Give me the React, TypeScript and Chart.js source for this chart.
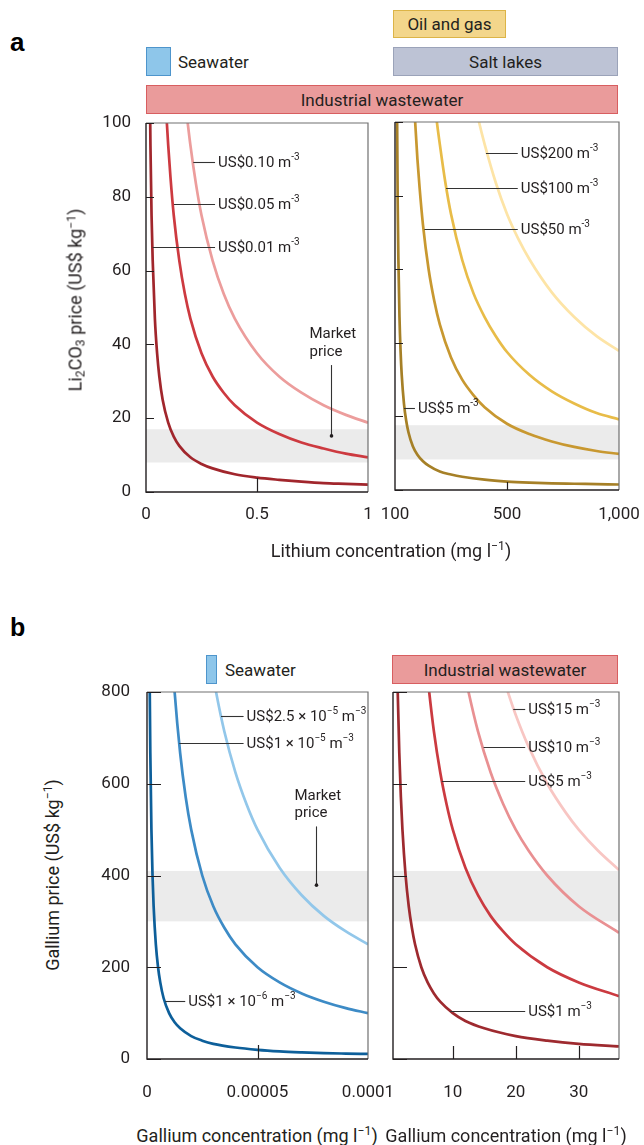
import React, { useEffect, useRef } from 'react';
import { Chart, registerables } from 'chart.js';

Chart.register(...registerables);

const FONT = 'Roboto, "Noto Sans", "DejaVu Sans", sans-serif';
const INK = '#231f20';

// ================= Panel a: lithium =================
const liPriceTicks = [0, 20, 40, 60, 80, 100];
const liPriceTickLabels = ['0', '20', '40', '60', '80', '100'];
const liLowConcTicks = [0, 0.5, 1];
const liLowConcTickLabels = ['0', '0.5', '1'];
const liHighConcTicks = [0, 500, 1000];
const liHighConcTickLabels = ['100', '500', '1,000'];
const liMarketBandLow = [8, 17];
const liMarketBandHigh = [8.3, 17.6];

// Li2CO3 price vs lithium concentration, low-concentration sources (mg/l)
const liConc001 = [0.015, 0.02, 0.025, 0.03, 0.04, 0.05, 0.06, 0.075, 0.1, 0.125, 0.15, 0.2, 0.25, 0.3, 0.4, 0.5, 0.6, 0.7, 0.8, 0.9, 1];
const liPrice001 = [125, 94, 75, 63, 47, 37.6, 31.3, 25, 18.8, 15, 12.5, 9.4, 7.6, 6.4, 4.8, 3.9, 3.3, 2.8, 2.4, 2.2, 2.0];
const liConc005 = [0.09, 0.1, 0.11, 0.125, 0.15, 0.175, 0.2, 0.25, 0.3, 0.35, 0.4, 0.5, 0.6, 0.7, 0.8, 0.9, 1];
const liPrice005 = [104, 94, 85.5, 75, 62.7, 53.7, 47, 37.6, 31.3, 26.9, 23.5, 18.8, 15.7, 13.4, 11.8, 10.4, 9.4];
const liConc010 = [0.18, 0.2, 0.225, 0.25, 0.3, 0.35, 0.4, 0.5, 0.6, 0.7, 0.8, 0.9, 1];
const liPrice010 = [104, 94, 83.5, 75, 62.7, 53.7, 47, 37.6, 31.3, 26.9, 23.5, 20.9, 18.8];

// high-concentration sources
const liConc5 = [5, 7, 9, 12, 15, 20, 25, 30, 40, 50, 60, 80, 100, 125, 150, 200, 250, 300, 400, 500, 600, 700, 800, 900, 1000];
const liPrice5 = [190, 135, 104, 78, 63, 47, 37.6, 31.3, 23.5, 18.8, 15.7, 11.8, 9.6, 7.8, 6.6, 5.0, 4.2, 3.6, 2.8, 2.3, 2.0, 1.8, 1.7, 1.6, 1.5];
const liConc50 = [80, 90, 100, 110, 125, 150, 175, 200, 250, 300, 350, 400, 500, 600, 700, 800, 900, 1000];
const liPrice50 = [112, 100, 90, 82, 72, 60, 51.5, 45, 36, 30, 25.8, 22.5, 18, 15.2, 13.2, 11.7, 10.6, 9.8];
const liConc100 = [170, 185, 200, 225, 250, 300, 350, 400, 450, 500, 600, 700, 800, 900, 1000];
const liPrice100 = [110, 101, 94, 83.5, 75, 62.5, 53.5, 47, 41.8, 37.5, 31.3, 26.8, 23.5, 20.9, 19.2];
const liConc200 = [350, 375, 400, 450, 500, 550, 600, 700, 800, 900, 1000];
const liPrice200 = [107, 100, 94, 83.5, 75, 68.3, 62.7, 53.7, 47, 41.8, 37.8];

// ================= Panel b: gallium =================
const gaPriceTicks = [0, 200, 400, 600, 800];
const gaPriceTickLabels = ['0', '200', '400', '600', '800'];
const gaLowConcTicks = [0, 0.00005, 0.0001];
const gaLowConcTickLabels = ['0', '0.00005', '0.0001'];
const gaHighConcTicks = [10, 20, 30];
const gaHighConcTickLabels = ['10', '20', '30'];
const gaMarketBand = [300, 410];

const gaConc1e6 = [1e-6, 1.25e-6, 1.5e-6, 2e-6, 2.5e-6, 3e-6, 4e-6, 5e-6, 6e-6, 7.5e-6, 1e-5, 1.25e-5, 1.5e-5, 2e-5, 2.5e-5, 3e-5, 4e-5, 5e-5, 6e-5, 7e-5, 8e-5, 9e-5, 1e-4];
const gaPrice1e6 = [1000, 800, 667, 500, 400, 333, 250, 200, 167, 133, 100, 80, 67, 50, 40, 33, 25, 20, 16.7, 14.5, 12.8, 11.8, 11];
const gaConc1e5 = [1.1e-5, 1.25e-5, 1.5e-5, 1.75e-5, 2e-5, 2.5e-5, 3e-5, 3.5e-5, 4e-5, 5e-5, 6e-5, 7e-5, 8e-5, 9e-5, 1e-4];
const gaPrice1e5 = [909, 800, 667, 571, 500, 400, 333, 286, 250, 200, 167, 143, 125, 111, 100];
const gaConc25e6 = [2.9e-5, 3.125e-5, 3.5e-5, 4e-5, 4.5e-5, 5e-5, 6e-5, 7e-5, 8e-5, 9e-5, 1e-4];
const gaPrice25e6 = [862, 800, 714, 625, 556, 500, 417, 357, 312, 278, 250];

const gaConc1 = [1.1, 1.25, 1.5, 1.75, 2, 2.5, 3, 3.5, 4, 5, 6, 7, 8, 10, 12, 15, 20, 25, 30, 36.4];
const gaPrice1 = [909, 800, 667, 571, 500, 400, 333, 286, 250, 200, 167, 143, 125, 100, 83, 67, 50, 40, 33, 27.5];
const gaConc5 = [6, 6.25, 7, 8, 9, 10, 12, 14, 16, 18, 20, 25, 30, 36.4];
const gaPrice5 = [833, 800, 714, 625, 556, 500, 417, 357, 312, 278, 250, 200, 167, 137];
const gaConc10 = [12, 12.5, 14, 16, 18, 20, 22, 25, 30, 36.4];
const gaPrice10 = [833, 800, 714, 625, 556, 500, 455, 400, 333, 275];
const gaConc15 = [18, 18.75, 20, 22, 25, 28, 30, 33, 36.4];
const gaPrice15 = [833, 800, 750, 682, 600, 536, 500, 455, 412];

// ================= types & panel definitions =================
type Part = { t: string; s?: boolean };
type Note = { parts: Part[]; x0: number; x1: number; y: number };
type Series = { x: number[]; y: number[]; color: string };
type Panel = {
  area: { l: number; r: number; t: number; b: number };
  yAxisW: number;
  xMin: number; xMax: number; yMax: number;
  xTicks: number[]; xTickLabels: string[]; xTickMarks: number[];
  yTicks: number[]; yTickLabels: string[] | null;
  tickX: number; tickY: number; yPad: number; xPad: number;
  band: number[];
  series: Series[];
  notes: Note[];
  market?: { x: number; yTop: number; yDot: number };
};

const PAD_T = 16;
const PAD_R = 34;
const X_AXIS_H = 50;

const panels: Panel[] = [
  {
    area: { l: 146, r: 368, t: 123, b: 492 }, yAxisW: 70,
    xMin: 0, xMax: 1, yMax: 100,
    xTicks: liLowConcTicks, xTickLabels: liLowConcTickLabels, xTickMarks: [0.5],
    yTicks: liPriceTicks, yTickLabels: liPriceTickLabels,
    tickX: 14, tickY: 8, yPad: 15, xPad: 13,
    band: liMarketBandLow,
    series: [
      { x: liConc010, y: liPrice010, color: '#ec9d9c' },
      { x: liConc005, y: liPrice005, color: '#cd3a40' },
      { x: liConc001, y: liPrice001, color: '#a1262c' },
    ],
    notes: [
      { parts: [{ t: 'US$0.10 m' }, { t: '-3', s: true }], x0: 0.213, x1: 0.311, y: 89.3 },
      { parts: [{ t: 'US$0.05 m' }, { t: '-3', s: true }], x0: 0.126, x1: 0.311, y: 78 },
      { parts: [{ t: 'US$0.01 m' }, { t: '-3', s: true }], x0: 0.03, x1: 0.311, y: 66.3 },
    ],
    market: { x: 0.832, yTop: 34.4, yDot: 15.2 },
  },
  {
    area: { l: 395, r: 619, t: 122, b: 490 }, yAxisW: 22,
    xMin: 0, xMax: 1000, yMax: 100,
    xTicks: liHighConcTicks, xTickLabels: liHighConcTickLabels, xTickMarks: [500],
    yTicks: liPriceTicks, yTickLabels: null,
    tickX: 8, tickY: 8, yPad: 15, xPad: 15,
    band: liMarketBandHigh,
    series: [
      { x: liConc200, y: liPrice200, color: '#fde4a6' },
      { x: liConc100, y: liPrice100, color: '#e8bc48' },
      { x: liConc50, y: liPrice50, color: '#c89830' },
      { x: liConc5, y: liPrice5, color: '#a68027' },
    ],
    notes: [
      { parts: [{ t: 'US$200 m' }, { t: '-3', s: true }], x0: 406, x1: 548, y: 91.7 },
      { parts: [{ t: 'US$100 m' }, { t: '-3', s: true }], x0: 228, x1: 548, y: 82.1 },
      { parts: [{ t: 'US$50 m' }, { t: '-3', s: true }], x0: 131, x1: 548, y: 70.8 },
      { parts: [{ t: 'US$5 m' }, { t: '-3', s: true }], x0: 40, x1: 89, y: 22.2 },
    ],
  },
  {
    area: { l: 147, r: 368, t: 692, b: 1059 }, yAxisW: 70,
    xMin: 0, xMax: 0.0001, yMax: 800,
    xTicks: gaLowConcTicks, xTickLabels: gaLowConcTickLabels, xTickMarks: [0.00005],
    yTicks: gaPriceTicks, yTickLabels: gaPriceTickLabels,
    tickX: 14, tickY: 14, yPad: 17, xPad: 24,
    band: gaMarketBand,
    series: [
      { x: gaConc25e6, y: gaPrice25e6, color: '#92c7ea' },
      { x: gaConc1e5, y: gaPrice1e5, color: '#3d8bc6' },
      { x: gaConc1e6, y: gaPrice1e6, color: '#0d5f9a' },
    ],
    notes: [
      { parts: [{ t: 'US$2.5 × 10' }, { t: '−5', s: true }, { t: ' m' }, { t: '−3', s: true }], x0: 3.35e-5, x1: 4.37e-5, y: 747 },
      { parts: [{ t: 'US$1 × 10' }, { t: '−5', s: true }, { t: ' m' }, { t: '−3', s: true }], x0: 1.46e-5, x1: 4.37e-5, y: 689 },
      { parts: [{ t: 'US$1 × 10' }, { t: '−6', s: true }, { t: ' m' }, { t: '−3', s: true }], x0: 8.3e-6, x1: 1.73e-5, y: 125.6 },
    ],
    market: { x: 7.66e-5, yTop: 507, yDot: 379 },
  },
  {
    area: { l: 393, r: 619, t: 692, b: 1059 }, yAxisW: 22,
    xMin: 0.5, xMax: 36.4, yMax: 800,
    xTicks: gaHighConcTicks, xTickLabels: gaHighConcTickLabels, xTickMarks: gaHighConcTicks,
    yTicks: gaPriceTicks, yTickLabels: null,
    tickX: 13, tickY: 14, yPad: 17, xPad: 24,
    band: gaMarketBand,
    series: [
      { x: gaConc15, y: gaPrice15, color: '#f8c6c3' },
      { x: gaConc10, y: gaPrice10, color: '#e99092' },
      { x: gaConc5, y: gaPrice5, color: '#cb3a40' },
      { x: gaConc1, y: gaPrice1, color: '#9e2a2f' },
    ],
    notes: [
      { parts: [{ t: 'US$15 m' }, { t: '−3', s: true }], x0: 19.6, x1: 21.5, y: 763 },
      { parts: [{ t: 'US$10 m' }, { t: '−3', s: true }], x0: 14.9, x1: 21.5, y: 681 },
      { parts: [{ t: 'US$5 m' }, { t: '−3', s: true }], x0: 8.25, x1: 21.5, y: 605 },
      { parts: [{ t: 'US$1 m' }, { t: '−3', s: true }], x0: 9.6, x1: 21.5, y: 105 },
    ],
  },
];

function geom(p: Panel) {
  const { l, r, t, b } = p.area;
  return {
    left: l - p.yAxisW,
    top: t - PAD_T,
    w: r - l + p.yAxisW + PAD_R,
    h: b - t + PAD_T + X_AXIS_H,
  };
}

function drawParts(ctx: CanvasRenderingContext2D, parts: Part[], x: number, y: number, size: number) {
  let cx = x;
  for (const p of parts) {
    if (p.s) {
      ctx.font = `${Math.round(size * 0.68)}px ${FONT}`;
      ctx.fillText(p.t, cx, y - size * 0.36);
    } else {
      ctx.font = `${size}px ${FONT}`;
      ctx.fillText(p.t, cx, y);
    }
    cx += ctx.measureText(p.t).width;
  }
}

function zeroPadding(s: any) {
  s.paddingLeft = 0;
  s.paddingRight = 0;
  s.paddingTop = 0;
  s.paddingBottom = 0;
}

function buildConfig(p: Panel): any {
  const deco = {
    id: 'deco',
    beforeDatasetsDraw(chart: any) {
      const { ctx, chartArea: a, scales } = chart;
      const y = scales.y;
      const yHi = y.getPixelForValue(p.band[1]);
      const yLo = y.getPixelForValue(p.band[0]);
      ctx.save();
      ctx.fillStyle = '#ebebeb';
      ctx.fillRect(a.left, yHi, a.right - a.left, yLo - yHi);
      ctx.restore();
    },
    afterDatasetsDraw(chart: any) {
      const { ctx, chartArea: a, scales } = chart;
      const x = scales.x;
      const y = scales.y;
      ctx.save();
      // frame
      ctx.lineCap = 'butt';
      ctx.strokeStyle = '#707070';
      ctx.lineWidth = 1.2;
      ctx.beginPath();
      ctx.moveTo(a.left, a.top);
      ctx.lineTo(a.right, a.top);
      ctx.lineTo(a.right, a.bottom);
      ctx.stroke();
      ctx.strokeStyle = INK;
      ctx.lineWidth = 1.4;
      ctx.beginPath();
      ctx.moveTo(a.left, a.top);
      ctx.lineTo(a.left, a.bottom);
      ctx.lineTo(a.right, a.bottom);
      ctx.stroke();
      // inward ticks
      ctx.lineWidth = 1.2;
      ctx.beginPath();
      for (const v of p.yTicks) {
        const py = Math.round(y.getPixelForValue(v)) + 0.5;
        ctx.moveTo(a.left, py);
        ctx.lineTo(a.left + p.tickY, py);
      }
      for (const v of p.xTickMarks) {
        const px = Math.round(x.getPixelForValue(v)) + 0.5;
        ctx.moveTo(px, a.bottom);
        ctx.lineTo(px, a.bottom - p.tickX);
      }
      ctx.stroke();
      // leader lines + labels
      ctx.strokeStyle = '#333333';
      ctx.lineWidth = 1.1;
      ctx.fillStyle = INK;
      ctx.textBaseline = 'middle';
      ctx.textAlign = 'left';
      for (const n of p.notes) {
        const py = Math.round(y.getPixelForValue(n.y)) + 0.5;
        const x0 = x.getPixelForValue(n.x0);
        const x1 = x.getPixelForValue(n.x1);
        ctx.beginPath();
        ctx.moveTo(x0, py);
        ctx.lineTo(x1, py);
        ctx.stroke();
        drawParts(ctx, n.parts, x1 + 3, py + 0.5, 15);
      }
      // market price
      if (p.market) {
        const m = p.market;
        const px = Math.round(x.getPixelForValue(m.x)) + 0.5;
        const top = y.getPixelForValue(m.yTop);
        const dot = y.getPixelForValue(m.yDot);
        ctx.beginPath();
        ctx.moveTo(px, top);
        ctx.lineTo(px, dot);
        ctx.stroke();
        ctx.beginPath();
        ctx.arc(px, dot, 1.8, 0, Math.PI * 2);
        ctx.fill();
        ctx.font = `15px ${FONT}`;
        ctx.fillText('Market', px - 22, top - 30.5);
        ctx.fillText('price', px - 22, top - 12.7);
      }
      ctx.restore();
    },
  };

  return {
    type: 'line',
    data: {
      datasets: p.series.map((s) => ({
        data: s.x.map((xv, i) => ({ x: xv, y: s.y[i] })),
        borderColor: s.color,
        borderWidth: 2.7,
        pointRadius: 0,
        pointHoverRadius: 0,
        fill: false,
        cubicInterpolationMode: 'monotone',
      })),
    },
    options: {
      responsive: false,
      animation: false,
      events: [],
      layout: { padding: { left: 0, right: PAD_R, top: PAD_T, bottom: 0 } },
      plugins: { legend: { display: false }, tooltip: { enabled: false } },
      scales: {
        x: {
          type: 'linear',
          position: 'bottom',
          min: p.xMin,
          max: p.xMax,
          grid: { display: false, drawTicks: false },
          border: { display: false },
          ticks: {
            font: { family: FONT, size: 17 },
            color: INK,
            padding: p.xPad,
            maxRotation: 0,
            autoSkip: false,
            callback: (_v: number, i: number) => p.xTickLabels[i] ?? '',
          },
          afterBuildTicks: (s: any) => {
            s.ticks = p.xTicks.map((v) => ({ value: v }));
          },
          afterFit: (s: any) => {
            s.height = X_AXIS_H;
            zeroPadding(s);
          },
        },
        y: {
          type: 'linear',
          position: 'left',
          min: 0,
          max: p.yMax,
          grid: { display: false, drawTicks: false },
          border: { display: false },
          ticks: {
            display: !!p.yTickLabels,
            font: { family: FONT, size: 17 },
            color: INK,
            padding: p.yPad,
            autoSkip: false,
            callback: (_v: number, i: number) => (p.yTickLabels ? p.yTickLabels[i] ?? '' : ''),
          },
          afterBuildTicks: (s: any) => {
            s.ticks = p.yTicks.map((v) => ({ value: v }));
          },
          afterFit: (s: any) => {
            s.width = p.yAxisW;
            zeroPadding(s);
          },
        },
      },
    },
    plugins: [deco],
  };
}

function PanelChart({ panel }: { panel: Panel }) {
  const ref = useRef<HTMLCanvasElement>(null);
  useEffect(() => {
    const chart = new Chart(ref.current as HTMLCanvasElement, buildConfig(panel));
    return () => chart.destroy();
  }, [panel]);
  const g = geom(panel);
  return (
    <canvas
      ref={ref}
      width={g.w}
      height={g.h}
      style={{ position: 'absolute', left: g.left, top: g.top, width: g.w, height: g.h }}
    />
  );
}

const txt: React.CSSProperties = { position: 'absolute', fontFamily: FONT, color: INK, whiteSpace: 'nowrap' };

function Box(props: { left: number; top: number; w: number; h: number; bg: string; bd: string; label?: string }) {
  return (
    <div
      style={{
        position: 'absolute', left: props.left, top: props.top, width: props.w, height: props.h,
        boxSizing: 'border-box', background: props.bg, border: `1.5px solid ${props.bd}`,
        display: 'flex', alignItems: 'center', justifyContent: 'center',
        fontFamily: FONT, fontSize: 17, color: INK, whiteSpace: 'nowrap',
      }}
    >
      {props.label}
    </div>
  );
}

const supStyle: React.CSSProperties = { fontSize: '0.68em', verticalAlign: '0.5em', lineHeight: 0 };
const subStyle: React.CSSProperties = { fontSize: '0.68em', verticalAlign: '-0.25em', lineHeight: 0 };

export default function App() {
  return (
    <div style={{ position: 'absolute', left: 0, top: 0, width: 644, height: 1145, background: '#fff', overflow: 'hidden' }}>
      {/* panel letters */}
      <div style={{ ...txt, left: 10, top: 27, fontFamily: '"Liberation Sans", Arial, sans-serif', fontWeight: 700, fontSize: 26, lineHeight: '30px', color: '#000' }}>a</div>
      <div style={{ ...txt, left: 10, top: 612, fontFamily: '"Liberation Sans", Arial, sans-serif', fontWeight: 700, fontSize: 25, lineHeight: '30px', color: '#000' }}>b</div>

      {/* panel a legend */}
      <Box left={393} top={10} w={113} h={28} bg="#f3d68b" bd="#dcb447" label="Oil and gas" />
      <Box left={146} top={47} w={25} h={29} bg="#8ec6ea" bd="#4e95cc" />
      <div style={{ ...txt, left: 178, top: 50, fontSize: 17, lineHeight: '24px' }}>Seawater</div>
      <Box left={393} top={47} w={225} h={29} bg="#bdc3d5" bd="#9ba3b9" label="Salt lakes" />
      <Box left={146} top={85} w={472} h={29} bg="#ea9b9b" bd="#d85e60" label="Industrial wastewater" />

      {/* panel b legend */}
      <Box left={206} top={655} w={11} h={29} bg="#8ec6ea" bd="#4e95cc" />
      <div style={{ ...txt, left: 225, top: 658, fontSize: 17, lineHeight: '24px' }}>Seawater</div>
      <Box left={392} top={655} w={226} h={29} bg="#ea9b9b" bd="#d85e60" label="Industrial wastewater" />

      {panels.map((p, i) => (
        <PanelChart key={i} panel={p} />
      ))}

      {/* axis titles */}
      <div style={{ ...txt, left: 75, top: 300, fontSize: 18, transform: 'translate(-50%, -50%) rotate(-90deg)' }}>
        Li<span style={subStyle}>2</span>CO<span style={subStyle}>3</span> price (US$ kg<span style={supStyle}>−1</span>)
      </div>
      <div style={{ ...txt, left: 391, top: 550, fontSize: 18, transform: 'translate(-50%, -50%)' }}>
        Lithium concentration (mg l<span style={supStyle}>−1</span>)
      </div>
      <div style={{ ...txt, left: 52, top: 875, fontSize: 18, transform: 'translate(-50%, -50%) rotate(-90deg)' }}>
        Gallium price (US$ kg<span style={supStyle}>−1</span>)
      </div>
      <div style={{ ...txt, left: 257, top: 1135, fontSize: 18, transform: 'translate(-50%, -50%)' }}>
        Gallium concentration (mg l<span style={supStyle}>−1</span>)
      </div>
      <div style={{ ...txt, left: 506, top: 1135, fontSize: 18, transform: 'translate(-50%, -50%)' }}>
        Gallium concentration (mg l<span style={supStyle}>−1</span>)
      </div>
    </div>
  );
}
